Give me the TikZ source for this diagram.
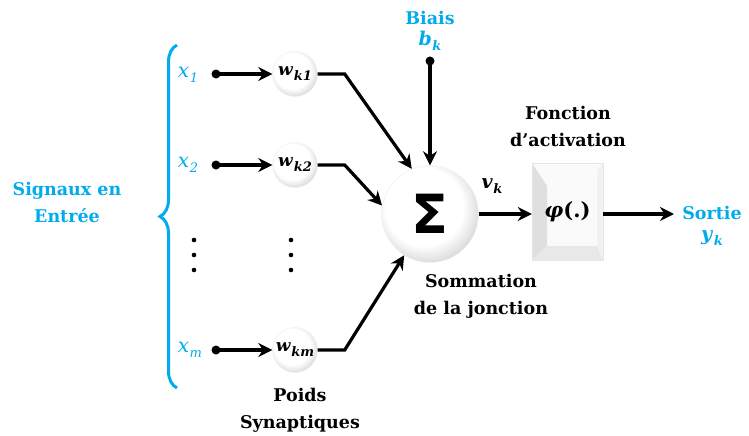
\documentclass[tikz,border=0pt]{standalone}
\usepackage{fontspec}
\setmainfont{DejaVu Serif}
\newfontfamily\sigmafont{DejaVu Sans}
\usetikzlibrary{arrows.meta,decorations.pathreplacing,calc}
\definecolor{cy}{RGB}{0,172,236}
\newcommand{\iv}[2]{\textit{#1}\kern0.5pt\raisebox{-5pt}{\fontsize{13}{13}\selectfont\textit{#2}}}
\pgfdeclareradialshading{softball}{\pgfpoint{-5bp}{6bp}}{color(0bp)=(white); color(20bp)=(white); color(30bp)=(gray!35); color(50bp)=(gray!35)}
\tikzset{
  lab/.style={font=\fontsize{17.5}{27}\selectfont\bfseries, align=center, inner sep=0pt},
  cylab/.style={lab, text=cy},
  mlab/.style={font=\fontsize{20}{20}\selectfont, inner sep=0pt},
  blab/.style={font=\fontsize{19}{19}\selectfont\bfseries, inner sep=0pt},
  wcirc/.style={circle, minimum size=45pt, inner sep=0pt, draw=gray!12, line width=0.4pt,
     shading=softball, font=\fontsize{17}{17}\selectfont\bfseries},
  dotn/.style={circle, fill=black, minimum size=9pt, inner sep=0pt},
  conn/.style={line width=3.2pt, -{Stealth[length=14pt,width=14pt]}},
}
\begin{document}
\begin{tikzpicture}[x=1pt,y=-1pt]
\useasboundingbox (0,0) rectangle (749,436);
% brace
\draw[cy, line width=3pt, decorate, decoration={brace, amplitude=17pt}] (177,388) -- (177,45);
\node[cylab] (sig) at (67,202) {Signaux en\\Entrée};
% inputs
\node[mlab, text=cy] (x1) at (188,75) {\iv{x}{1}};
\node[mlab, text=cy] (x2) at (188,165) {\iv{x}{2}};
\node[mlab, text=cy] (xm) at (190,350) {\iv{x}{m}};
\node[dotn] (d1) at (216,74) {};
\node[dotn] (d2) at (216,165) {};
\node[dotn] (dm) at (216,350) {};
\node[wcirc] (w1) at (295,74) {\iv{w}{k1}};
\node[wcirc] (w2) at (295,165) {\iv{w}{k2}};
\node[wcirc] (wm) at (295,350) {\iv{w}{km}};
% vertical dots
\foreach \yy in {240,255,270} {
  \fill (194,\yy) circle (2.3pt);
  \fill (291,\yy) circle (2.3pt);
}
\node[lab] (poids) at (300,410) {Poids\\Synaptiques};
% summation
\node[circle, minimum size=97pt, inner sep=0pt, draw=gray!12, line width=0.4pt,
  shading=softball] (sum) at (430,214)
  {\sigmafont\bfseries\fontsize{54}{54}\selectfont Σ};
\node[lab] (somm) at (481,296) {Sommation\\de la jonction};
% bias
\node[cylab] (biais) at (430,18) {Biais};
\node[blab, text=cy] (bk) at (430,41) {\iv{b}{k}};
\node[dotn] (db) at (430,61) {};
% activation box
\fill[gray!4] (532,163) rectangle (603,260);
\fill[gray!25] (532,163) -- (547,186) -- (547,246) -- (532,260) -- cycle;
\fill[gray!18] (532,260) -- (547,246) -- (597,246) -- (603,260) -- cycle;
\fill[gray!10] (603,163) -- (597,170) -- (597,246) -- (603,260) -- cycle;
\node[draw=gray!20, line width=0.4pt, minimum width=71pt, minimum height=97pt, inner sep=0pt,
  font=\fontsize{21}{21}\selectfont\bfseries] (phi) at (567.5,211.5)
  {\textit{φ}(.)};
\node[lab] (fonc) at (568,126) {Fonction\\d’activation};
% output
\coordinate (out) at (674,214);
\node[cylab] (sortie) at (712,213) {Sortie};
\node[blab, text=cy] (yk) at (712,238) {\iv{y}{k}};
\node[blab] (vk) at (492,186) {\iv{v}{k}};
% connectors
\draw[conn] (d1.center) -- (w1.west);
\draw[conn] (d2.center) -- (w2.west);
\draw[conn] (dm.center) -- (wm.west);
\draw[conn] (w1.east) -- ++(27,0) -- (sum.112);
\draw[conn] (w2.east) -- ++(27,0) -- (sum.170);
\draw[conn] (wm.east) -- ++(27,0) -- (sum.238);
\draw[conn] (db.center) -- (sum.north);
\draw[conn] (sum.east) -- (sum.east -| phi.west);
\draw[conn] (sum.east -| phi.east) -- (out);
\end{tikzpicture}
\end{document}
